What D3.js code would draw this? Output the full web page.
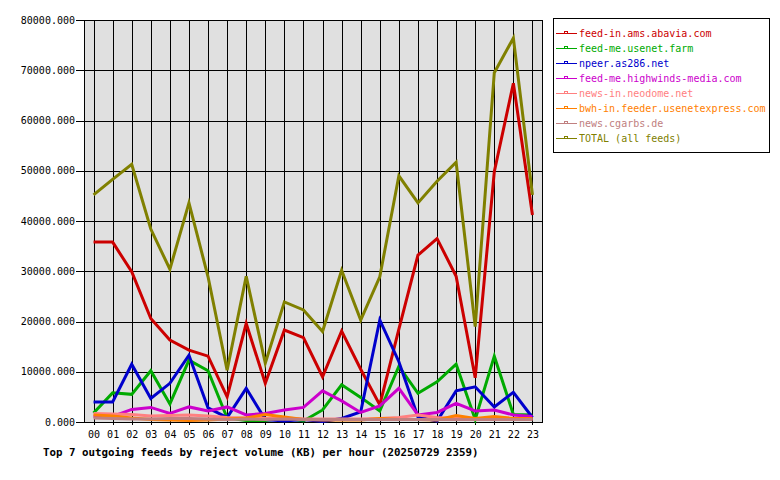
<!DOCTYPE html>
<html>
<head>
<meta charset="utf-8">
<script src="https://cdn.jsdelivr.net/npm/d3@7"></script>
<style>
  body { margin: 0; background: #fff; }
  text { font-family: "DejaVu Sans Mono", monospace; }
</style>
</head>
<body>
<div id="chart"></div>
<script>
// hours on the x axis
const hours = ["00","01","02","03","04","05","06","07","08","09","10","11",
               "12","13","14","15","16","17","18","19","20","21","22","23"];

const yTicks = [0, 10000, 20000, 30000, 40000, 50000, 60000, 70000, 80000];

const feedNames = [
    "feed-in.ams.abavia.com",
    "feed-me.usenet.farm",
    "npeer.as286.net",
    "feed-me.highwinds-media.com",
    "news-in.neodome.net",
    "bwh-in.feeder.usenetexpress.com",
    "news.cgarbs.de",
    "TOTAL (all feeds)"
];

const feedColors = ["#cc0000", "#00aa00", "#0000cc", "#cc00cc", "#ff8080", "#ff8000", "#c08080", "#808000"];

// reject volume (KB) per hour
const abavia = [35800, 35800, 29900, 20600, 16300, 14300, 13100, 5000, 19600, 7700, 18300, 16800,
                9000, 18100, 10500, 3400, 18500, 33200, 36500, 29000, 8800, 49800, 67400, 41200];
const usenetFarm = [1800, 5800, 5500, 10200, 3600, 12300, 10200, 800, 300, 300, 800, 200,
                    2400, 7400, 4900, 2200, 11100, 5700, 8000, 11500, 500, 13100, 1500, 1400];
const npeer = [4000, 4000, 11500, 4700, 7700, 13300, 2800, 900, 6700, 500, 200, 500,
               100, 700, 2000, 20300, 12000, 1000, 200, 6200, 7000, 3000, 5900, 900];
const highwinds = [1100, 1100, 2500, 2900, 1700, 3000, 2200, 3000, 1400, 1700, 2400, 2900,
                   6200, 4200, 1900, 3200, 6700, 1400, 1900, 3700, 2200, 2400, 1400, 1100];
const neodome = [1700, 1600, 1500, 1200, 1300, 1400, 1200, 900, 800, 700, 800, 600,
                 600, 600, 600, 700, 900, 1400, 900, 800, 700, 600, 700, 600];
const usenetExpress = [1400, 1200, 800, 500, 400, 300, 400, 600, 800, 1500, 1000, 500,
                       400, 400, 400, 700, 500, 500, 400, 1300, 700, 1100, 700, 700];
const cgarbs = [800, 700, 600, 600, 700, 700, 600, 500, 600, 500, 600, 500,
                500, 500, 500, 500, 500, 500, 500, 500, 500, 500, 500, 500];
const total = [45200, 48300, 51300, 38400, 30400, 43600, 28900, 10300, 29000, 11700, 23900, 22300,
               18000, 30200, 20300, 28900, 49000, 43600, 47900, 51700, 19000, 69500, 76400, 45200];

const series = [abavia, usenetFarm, npeer, highwinds, neodome, usenetExpress, cgarbs, total];

const width = 780, height = 480;
const plotLeft = 84, plotRight = 542, plotTop = 20, plotBottom = 422;

const svg = d3.select("#chart").append("svg")
    .attr("width", width)
    .attr("height", height);

const x = d3.scalePoint()
    .domain(hours)
    .range([plotLeft, plotRight])
    .padding(0.5);

const y = d3.scaleLinear()
    .domain([0, 80000])
    .range([plotBottom, plotTop]);

// plot background
svg.append("rect")
    .attr("x", plotLeft).attr("y", plotTop)
    .attr("width", plotRight - plotLeft).attr("height", plotBottom - plotTop)
    .attr("fill", "#e0e0e0");

// grid
const grid = svg.append("g").attr("shape-rendering", "crispEdges");
grid.selectAll(".vg")
    .data(hours)
    .enter().append("line")
    .attr("x1", d => Math.round(x(d)) + 0.5).attr("x2", d => Math.round(x(d)) + 0.5)
    .attr("y1", plotTop).attr("y2", plotBottom + 3)
    .attr("stroke", "#000");
grid.selectAll(".hg")
    .data(yTicks)
    .enter().append("line")
    .attr("x1", plotLeft - 8).attr("x2", plotRight)
    .attr("y1", d => Math.round(y(d)) + 0.5).attr("y2", d => Math.round(y(d)) + 0.5)
    .attr("stroke", "#000");

// frame
svg.append("rect")
    .attr("x", plotLeft + 0.5).attr("y", plotTop + 0.5)
    .attr("width", plotRight - plotLeft).attr("height", plotBottom - plotTop)
    .attr("fill", "none")
    .attr("stroke", "#000")
    .attr("shape-rendering", "crispEdges");

// y labels
const yAxis = d3.axisLeft(y)
    .tickValues(yTicks)
    .tickSize(0)
    .tickPadding(9)
    .tickFormat(d3.format(".3f"));
const gy = svg.append("g")
    .attr("transform", `translate(${plotLeft},0)`)
    .call(yAxis);
gy.select(".domain").remove();
gy.selectAll("text")
    .attr("font-family", "DejaVu Sans Mono, monospace")
    .attr("font-size", 10)
    .attr("fill", "#000");

// x labels
const xAxis = d3.axisBottom(x).tickSize(0).tickPadding(9);
const gx = svg.append("g")
    .attr("transform", `translate(0,${plotBottom})`)
    .call(xAxis);
gx.select(".domain").remove();
gx.selectAll("text")
    .attr("font-family", "DejaVu Sans Mono, monospace")
    .attr("font-size", 10)
    .attr("fill", "#000");

// lines
const line = d3.line()
    .x((d, i) => x(hours[i]))
    .y(d => y(d));

svg.append("g")
    .selectAll("path")
    .data(series)
    .enter().append("path")
    .attr("d", line)
    .attr("fill", "none")
    .attr("stroke", (d, i) => feedColors[i])
    .attr("stroke-width", 3)
    .attr("stroke-linejoin", "miter");

// title
svg.append("text")
    .attr("x", 43)
    .attr("y", 456)
    .attr("font-size", 10.8)
    .attr("font-weight", "bold")
    .attr("fill", "#000")
    .text("Top 7 outgoing feeds by reject volume (KB) per hour (20250729 2359)");

// legend
const legend = svg.append("g");
legend.append("rect")
    .attr("x", 553.5).attr("y", 18.5)
    .attr("width", 216).attr("height", 134)
    .attr("fill", "#fff")
    .attr("stroke", "#000")
    .attr("shape-rendering", "crispEdges");

const item = legend.selectAll(".item")
    .data(feedNames)
    .enter().append("g")
    .attr("transform", (d, i) => `translate(0,${33 + i * 15})`);

item.append("line")
    .attr("x1", 556).attr("x2", 577)
    .attr("y1", 0.5).attr("y2", 0.5)
    .attr("stroke", (d, i) => feedColors[i])
    .attr("shape-rendering", "crispEdges");
item.append("rect")
    .attr("x", 564.5).attr("y", -1.5)
    .attr("width", 3).attr("height", 2)
    .attr("fill", "#fff")
    .attr("stroke", (d, i) => feedColors[i])
    .attr("shape-rendering", "crispEdges");
item.append("text")
    .attr("x", 579)
    .attr("y", 4)
    .attr("font-size", 10)
    .attr("fill", (d, i) => feedColors[i])
    .text(d => d);
</script>
</body>
</html>
